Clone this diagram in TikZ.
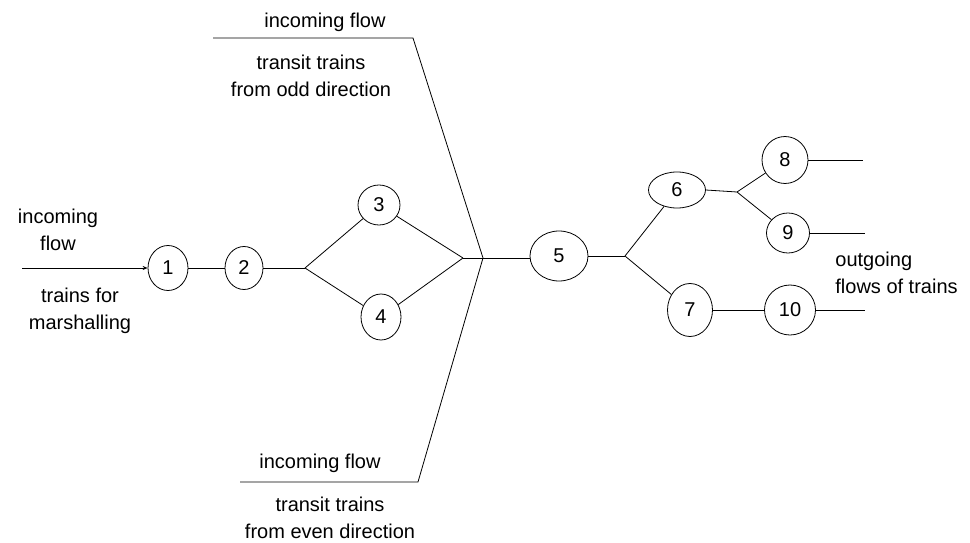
\documentclass[tikz,border=0pt]{standalone}
\usepackage{fontspec}
\setmainfont{Liberation Sans}
\usetikzlibrary{shapes.geometric,arrows.meta}

\tikzstyle{stn} = [ellipse, draw, inner sep=0pt]
\tikzstyle{lbl} = [align=center, inner sep=0pt]

\begin{document}
\begin{tikzpicture}[x=1pt,y=-1pt,line width=0.8pt,every node/.style={font=\fontsize{20}{27}\selectfont}]
			\useasboundingbox (0,0) rectangle (970,543);
			% stations
			\node[stn, minimum width=40, minimum height=45] (n1) at (168,268) {1};
			\node[stn, minimum width=38, minimum height=43] (n2) at (244,268) {2};
			\node[stn, minimum width=42, minimum height=40] (n3) at (379,205) {3};
			\node[stn, minimum width=40, minimum height=46] (n4) at (381,317) {4};
			\node[stn, minimum width=58, minimum height=50] (n5) at (559,256) {5};
			\node[stn, minimum width=57, minimum height=36] (n6) at (677,190) {6};
			\node[stn, minimum width=45, minimum height=53] (n7) at (690,310) {7};
			\node[stn, minimum width=46, minimum height=47] (n8) at (785,160) {8};
			\node[stn, minimum width=43, minimum height=40] (n9) at (788,233) {9};
			\node[stn, minimum width=51, minimum height=50] (n10) at (790,310) {10};
			% junctions and free ends
			\coordinate (in1) at (22,268);
			\coordinate (j1) at (305,268);
			\coordinate (j2) at (463,258);
			\coordinate (j3) at (625,256);
			\coordinate (j4) at (737,192);
			\coordinate (oddL) at (213,38);
			\coordinate (oddK) at (413,38);
			\coordinate (cross) at (483,258);
			\coordinate (evenK) at (418,482);
			\coordinate (evenL) at (240,482);
			\coordinate (o8) at (863,160);
			\coordinate (o9) at (865,233);
			\coordinate (o10) at (865,310);
			% tracks
			\draw [-{Stealth[length=5pt,width=4pt]}] (in1) -- (n1.west);
			\draw (n1.east) -- (n2.west);
			\draw (n2.east) -- (j1);
			\draw (j1) -- (n3);
			\draw (j1) -- (n4);
			\draw (n3) -- (j2);
			\draw (n4) -- (j2);
			\draw (j2) -- (n5.west |- j2);
			\draw (oddL) -- (oddK) -- (cross) -- (evenK) -- (evenL);
			\draw (n5.east) -- (j3);
			\draw (j3) -- (n6);
			\draw (j3) -- (n7);
			\draw (n6.east) -- (j4);
			\draw (j4) -- (n8);
			\draw (j4) -- (n9);
			\draw (n8.east) -- (o8);
			\draw (n9.east) -- (o9);
			\draw (n7.east) -- (n10.west);
			\draw (n10.east) -- (o10);
			% texts
			\node[lbl] (tIn) at (58,230) {incoming\\flow};
			\node[lbl] (tMar) at (80,311) {trains for\\marshalling};
			\node[lbl] (tOddIn) at (325,22) {incoming flow};
			\node[lbl] (tOdd) at (311,76) {transit trains\\from odd direction};
			\node[lbl] (tEvenIn) at (320,463) {incoming flow};
			\node[lbl] (tEven) at (330,518) {transit trains\\from even direction};
			\node[lbl, align=left, anchor=west] (tOut) at (835,273) {outgoing\\flows of trains};
		\end{tikzpicture}
\end{document}
